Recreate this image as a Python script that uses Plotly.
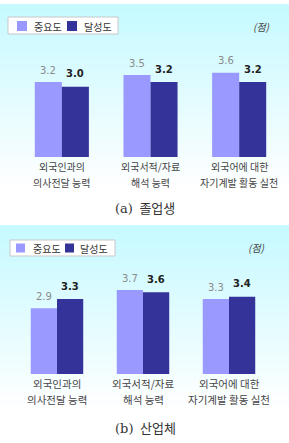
import plotly.graph_objects as go

# ---------------- data ----------------
categories = ["외국인과의<br>의사전달 능력", "외국서적/자료<br>해석 능력", "외국어에 대한<br>자기계발 활동 실천"]
series_names = ["중요도", "달성도"]
grad_importance = [3.2, 3.5, 3.6]     # (a) 졸업생
grad_achievement = [3.0, 3.2, 3.2]
ind_importance = [2.9, 3.7, 3.3]      # (b) 산업체
ind_achievement = [3.3, 3.6, 3.4]
captions = ["(a)\u2002졸업생", "(b)\u2002산업체"]
unit_label = "(점)"

W, H = 289, 443
LIGHT = "#9999ff"
DARK = "#333399"
SANS = "Noto Sans CJK KR"
NUM = "DejaVu Sans"
BARGAP = 0.39


def fy(p):
    return 1 - p / H


def fx(p):
    return p / W


fig = go.Figure()

panels = [
    dict(imp=grad_importance, ach=grad_achievement, xa="x", ya="y",
         xdom=[fx(17.5), fx(283.5)], base=157, top=4, scale=23.4,
         bg=(4, 190), lines=(167, 182), lab_size=10, cap=208,
         leg=dict(box=(8, 17, 118, 34), sq=[(17, 27), (67, 77)], tx=[32, 82], cy=26),
         unit=(272, 27)),
    dict(imp=ind_importance, ach=ind_achievement, xa="x2", ya="y2",
         xdom=[fx(14), fx(272)], base=374, top=225, scale=22.7,
         bg=(225, 410), lines=(383, 399), lab_size=10.5, cap=428,
         leg=dict(box=(10, 240, 115, 256), sq=[(16, 25), (65, 74)], tx=[31, 78], cy=248),
         unit=(267, 247)),
]

shapes = []
annotations = []
layout_axes = {}

for k, p in enumerate(panels):
    xa, ya = p["xa"], p["ya"]
    for name, vals, col in [(series_names[0], p["imp"], LIGHT), (series_names[1], p["ach"], DARK)]:
        fig.add_trace(go.Bar(x=list(range(len(categories))), y=vals, name=name,
                             marker=dict(color=col, line=dict(width=0)),
                             xaxis=xa, yaxis=ya, showlegend=False))
    ymax = (p["base"] - p["top"]) / p["scale"]
    xname = "xaxis" if xa == "x" else "xaxis2"
    yname = "yaxis" if ya == "y" else "yaxis2"
    layout_axes[xname] = dict(domain=p["xdom"], range=[-0.5, 2.5], visible=False,
                              anchor=ya, fixedrange=True)
    layout_axes[yname] = dict(domain=[fy(p["base"]), fy(p["top"])], range=[0, ymax],
                              visible=False, anchor=xa, fixedrange=True)

    # gradient background
    y0, y1 = p["bg"]
    n = 40
    for i in range(n):
        t = i / (n - 1)
        r = int(198 + (255 - 198) * t)
        g = int(250 + (255 - 250) * t)
        b = 255
        a0 = y0 + (y1 - y0) * i / n
        a1 = y0 + (y1 - y0) * (i + 1) / n + 0.6
        shapes.append(dict(type="rect", xref="paper", yref="paper", x0=0, x1=1,
                           y0=fy(a1), y1=fy(a0), fillcolor=f"rgb({r},{g},{b})",
                           line=dict(width=0), layer="below"))

    # value labels and category labels
    half = (1 - BARGAP) / 4
    for i in range(len(categories)):
        annotations.append(dict(xref=xa, yref=ya, x=i - half, y=p["imp"][i],
                                text=f"{p['imp'][i]:.1f}", showarrow=False,
                                yanchor="middle", yshift=12,
                                font=dict(family=NUM, size=10, color="#8a8a8a")))
        annotations.append(dict(xref=xa, yref=ya, x=i + half, y=p["ach"][i],
                                text=f"<b>{p['ach'][i]:.1f}</b>", showarrow=False,
                                yanchor="middle", yshift=13,
                                font=dict(family=NUM, size=10, color="#222222")))
        for line_text, line_y in zip(categories[i].split("<br>"), p["lines"]):
            annotations.append(dict(xref=xa, yref="paper", x=i, y=fy(line_y),
                                    text=line_text, showarrow=False, yanchor="middle",
                                    font=dict(family=SANS, size=p["lab_size"], color="#444444")))

    # caption
    annotations.append(dict(xref="paper", yref="paper", x=fx(145), y=fy(p["cap"]),
                            text=captions[k], showarrow=False, yanchor="middle",
                            font=dict(family="DejaVu Serif, " + SANS, size=13, color="#333333")))
    # unit
    annotations.append(dict(xref="paper", yref="paper", x=fx(p["unit"][0]), y=fy(p["unit"][1]),
                            text=f"<i>{unit_label}</i>", showarrow=False, yanchor="middle",
                            font=dict(family=SANS, size=10, color="#444444")))
    # manual legend
    L = p["leg"]
    bx0, by0, bx1, by1 = L["box"]
    shapes.append(dict(type="rect", xref="paper", yref="paper", x0=fx(bx0), x1=fx(bx1),
                       y0=fy(by1), y1=fy(by0), fillcolor="white",
                       line=dict(color="#c8c8c8", width=1)))
    for j, col in enumerate([LIGHT, DARK]):
        sx0, sx1 = L["sq"][j]
        s = (sx1 - sx0) / 2
        shapes.append(dict(type="rect", xref="paper", yref="paper", x0=fx(sx0), x1=fx(sx1),
                           y0=fy(L["cy"] + s), y1=fy(L["cy"] - s), fillcolor=col,
                           line=dict(width=0)))
        annotations.append(dict(xref="paper", yref="paper", x=fx(L["tx"][j]), y=fy(L["cy"]),
                                text=series_names[j], showarrow=False, xanchor="left",
                                yanchor="middle",
                                font=dict(family=SANS, size=10, color="#333333")))

fig.update_layout(
    width=W, height=H, margin=dict(l=0, r=0, t=0, b=0),
    paper_bgcolor="white", plot_bgcolor="rgba(0,0,0,0)",
    barmode="group", bargap=BARGAP, bargroupgap=0,
    shapes=shapes, annotations=annotations, showlegend=False,
    **layout_axes,
)

fig.write_html("out.html")
